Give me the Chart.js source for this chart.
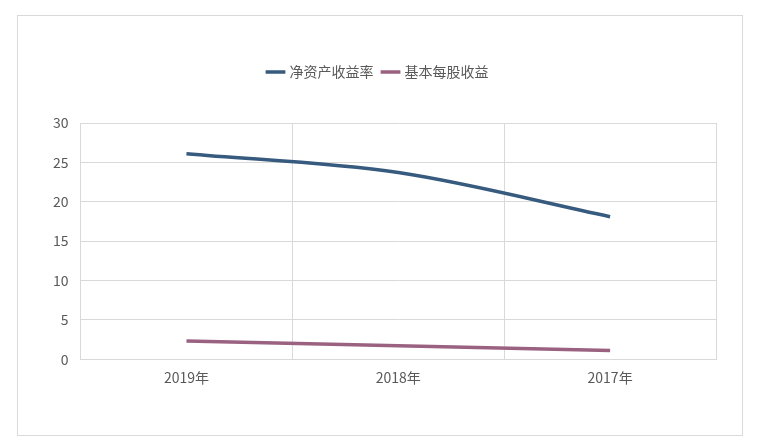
<!DOCTYPE html>
<html>
<head>
<meta charset="utf-8">
<script src="https://cdn.jsdelivr.net/npm/chart.js@4"></script>
<style>
  body { margin: 0; background: #fff; }
  #box { position: absolute; left: 17px; top: 15px; width: 724px; height: 419px; border: 1px solid #d9d9d9; }
  #wrap { position: absolute; left: 0; top: 0; width: 761px; height: 446px; }
</style>
</head>
<body>
<div id="box"></div>
<div id="wrap"><canvas id="chart"></canvas></div>
<script>
const years = ['2019年', '2018年', '2017年'];
const roe = [26.1, 23.7, 18.1];
const eps = [2.3, 1.7, 1.1];

const font = { family: "'Noto Sans CJK SC', 'Noto Sans', sans-serif", size: 14 };

// extra space below the legend
const legendGap = {
  id: 'legendGap',
  beforeInit(chart) {
    const fit = chart.legend.fit;
    chart.legend.fit = function () {
      fit.bind(chart.legend)();
      this.height += 34;
    };
  }
};

new Chart(document.getElementById('chart').getContext('2d'), {
  type: 'line',
  data: {
    labels: years,
    datasets: [
      { label: '净资产收益率', data: roe, borderColor: '#375a7f', backgroundColor: '#375a7f',
        borderWidth: 3.5, pointRadius: 0, tension: 0.4, cubicInterpolationMode: 'monotone' },
      { label: '基本每股收益', data: eps, borderColor: '#9a6280', backgroundColor: '#9a6280',
        borderWidth: 3.5, pointRadius: 0, tension: 0.4, cubicInterpolationMode: 'monotone' }
    ]
  },
  options: {
    responsive: true,
    maintainAspectRatio: false,
    animation: false,
    layout: { padding: { left: 41, right: 45, top: 55, bottom: 50 } },
    scales: {
      x: {
        offset: true,
        grid: { offset: true, color: '#d9d9d9', drawTicks: false },
        border: { color: '#d9d9d9' },
        ticks: { color: '#595959', font: font, padding: 10 }
      },
      y: {
        min: 0, max: 30,
        ticks: { stepSize: 5, color: '#595959', font: font, padding: 12 },
        grid: { color: '#d9d9d9', drawTicks: false },
        border: { display: false }
      }
    },
    plugins: {
      legend: {
        position: 'top',
        labels: { usePointStyle: true, pointStyle: 'line', color: '#595959', font: font, boxWidth: 40, padding: 10 }
      },
      tooltip: { enabled: false }
    }
  },
  plugins: [legendGap]
});
</script>
</body>
</html>
